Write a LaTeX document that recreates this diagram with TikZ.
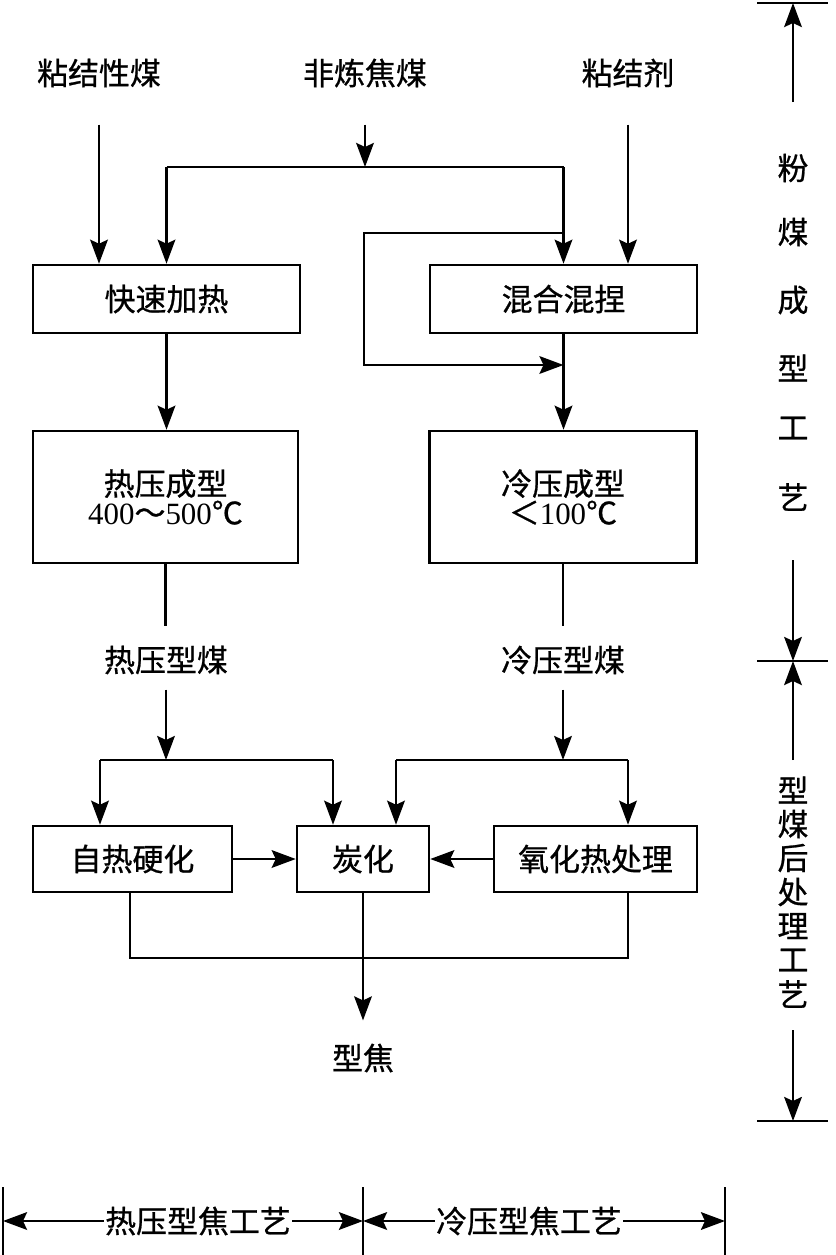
\documentclass[tikz,border=0pt]{standalone}
\usepackage{fontspec}
\setmainfont{Liberation Serif}
\newfontfamily\cjk[FakeBold=0.8]{Noto Sans CJK SC}
\usetikzlibrary{arrows.meta}
\def\px{0.025cm}
\tikzset{
  box/.style={draw, inner sep=0pt, align=center, font=\cjk\fontsize{22}{20.6}\selectfont},
  bsize/.style 2 args={minimum width=#1*\px, minimum height=#2*\px},
  lbl/.style={inner sep=0pt, font=\cjk\fontsize{22}{20.6}\selectfont},
  arr/.style={-{Stealth[length=6mm,width=4.4mm,inset=1mm]}},
}

\begin{document}
\begin{tikzpicture}[x=0.025cm, y=-0.025cm, line width=1.8pt]
\useasboundingbox (0,0) rectangle (835,1255);

% raw materials %
\node[lbl] (njm) at (99,73) {粘结性煤};
\node[lbl] (flj) at (365,73) {非炼焦煤};
\node[lbl] (njj) at (628,73) {粘结剂};

% boxes %
\node[box, bsize={267}{68}] (ksjr) at (166.5,299) {快速加热};
\node[box, bsize={267}{68}] (hhhn) at (563.5,299) {混合混捏};
\node[box, bsize={265}{132}] (ryc) at (165.5,497) {热压成型\\{\rmfamily 400}～{\rmfamily 500}℃};
\node[box, bsize={267}{132}] (lyc) at (563,497) {冷压成型\\＜{\rmfamily 100}℃};
\node[lbl] (rymc) at (166,660) {热压型煤};
\node[lbl] (lymc) at (563,660) {冷压型煤};
\node[box, bsize={199}{66}] (zrhh) at (132.5,859) {自热硬化};
\node[box, bsize={132}{66}] (th) at (363,859) {炭化};
\node[box, bsize={203}{66}] (yhcl) at (595.5,859) {氧化热处理};
\node[lbl] (xj) at (363,1058) {型焦};

% junctions %
\coordinate (jtop) at (365,167);
\coordinate (jtl) at (166.5,167);
\coordinate (jtr) at (563.5,167);
\coordinate (lpa) at (364,233);
\coordinate (lpb) at (364,365);
\coordinate (jla) at (100,760);
\coordinate (jlb) at (333,760);
\coordinate (jra) at (396,760);
\coordinate (jrb) at (628,760);
\coordinate (bl) at (130,958);
\coordinate (br) at (628,958);

% upper part %
\draw[arr, shorten <=36*\px] (njm.south) -- (njm.south |- ksjr.north);
\draw[arr, shorten <=36*\px] (flj.south) -- (jtop);
\draw (jtl) -- (jtr);
\draw[arr] (jtl) -- (ksjr.north);
\draw[arr] (jtr) -- (hhhn.north);
\draw[arr, shorten <=36*\px] (njj.south) -- (njj.south |- hhhn.north);
\draw[arr] (hhhn.north |- lpa) -- (lpa) -- (lpb) -- (hhhn.south |- lpb);
\draw[arr] (ksjr.south) -- (ksjr.south |- ryc.north);
\draw[arr] (hhhn.south) -- (hhhn.south |- lyc.north);

% moulded coal %
\draw[shorten >=18*\px] (ryc.south) -- (ryc.south |- rymc.north);
\draw[shorten >=18*\px] (lyc.south) -- (lyc.south |- lymc.north);
\draw[arr, shorten <=14*\px] (rymc.south) -- (rymc.south |- jla);
\draw[arr, shorten <=14*\px] (lymc.south) -- (lymc.south |- jra);

% after treatment %
\draw (jla) -- (jlb);
\draw[arr] (jla) -- (jla |- zrhh.north);
\draw[arr] (jlb) -- (jlb |- th.north);
\draw (jra) -- (jrb);
\draw[arr] (jra) -- (jra |- th.north);
\draw[arr] (jrb) -- (jrb |- yhcl.north);
\draw[arr] (zrhh) -- (th);
\draw[arr] (yhcl) -- (th);
\draw (bl |- zrhh.south) -- (bl) -- (br) -- (br |- yhcl.south);
\draw[arr, shorten >=22*\px] (th.south) -- (xj.north);

% right scale %
\coordinate (t1) at (793,3);
\coordinate (t2) at (793,661);
\coordinate (t3) at (793,1121);
\draw (757,3) -- (828,3);
\draw (757,661) -- (828,661);
\draw (757,1121) -- (828,1121);
\foreach \c/\y in {粉/168,煤/232,成/300,型/368,工/428,艺/497}
  \node[lbl] (fm\y) at (793,\y) {\c};
\foreach \c [count=\i from 0] in {型,煤,后,处,理,工,艺}
  \node[lbl] (hc\i) at (793,790+34*\i) {\c};
\draw[arr] (fm168.north |- 0,102) -- (t1);
\draw[arr] (fm497.south |- 0,560) -- (t2);
\draw[arr] (hc0.north |- 0,760) -- (t2);
\draw[arr] (hc6.south |- 0,1030) -- (t3);

% bottom scale %
\coordinate (b1) at (3,1221);
\coordinate (b2) at (363,1221);
\coordinate (b3) at (725,1221);
\draw (3,1187) -- (3,1255);
\draw (363,1187) -- (363,1255);
\draw (725,1187) -- (725,1255);
\node[lbl] (rxj) at (198,1221) {热压型焦工艺};
\node[lbl] (lxj) at (529,1221) {冷压型焦工艺};
\draw[arr] (rxj.west) -- (b1);
\draw[arr] (rxj.east) -- (b2);
\draw[arr] (lxj.west) -- (b2);
\draw[arr] (lxj.east) -- (b3);
\end{tikzpicture}
\end{document}
